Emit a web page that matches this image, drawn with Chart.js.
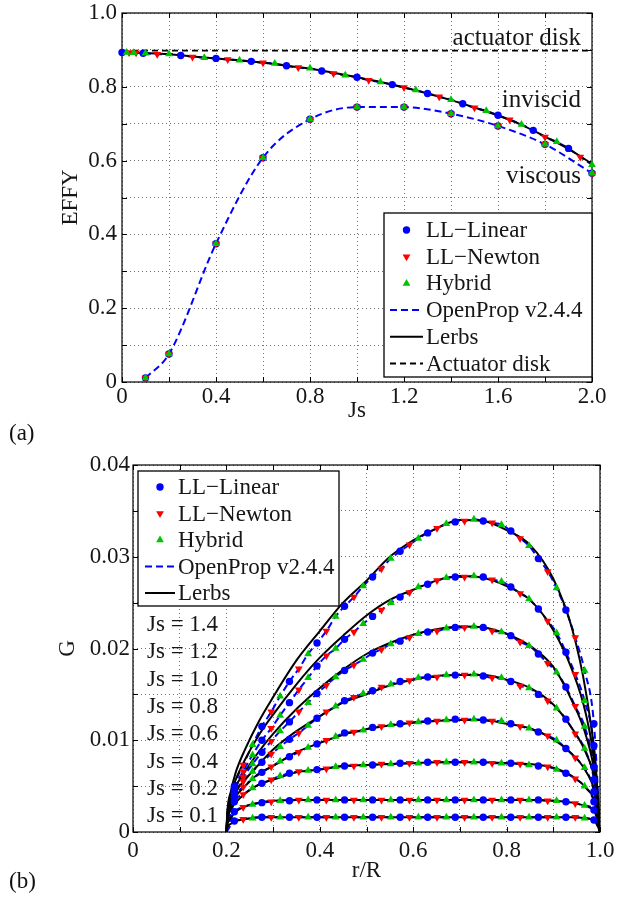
<!DOCTYPE html>
<html>
<head>
<meta charset="utf-8">
<script src="https://cdn.jsdelivr.net/npm/chart.js@4.4.1/dist/chart.umd.min.js"></script>
<style>
  html, body { margin: 0; padding: 0; background: #fff; }
  #page { position: relative; width: 631px; height: 898px; overflow: hidden; }
  canvas { position: absolute; left: 0; }
  .panel { position: absolute; left: 9px; font: 23px "Liberation Serif", serif; color: #111; line-height: 23px; }
</style>
</head>
<body>
<div id="page">
  <canvas id="effyChart" width="631" height="445" style="top:0;width:631px;height:445px"></canvas>
  <canvas id="gChart" width="631" height="453" style="top:445px;width:631px;height:453px"></canvas>
  <div class="panel" style="top:421px">(a)</div>
  <div class="panel" style="top:869px">(b)</div>
</div>
<script>
const SERIF = '"Liberation Serif", "Times New Roman", serif';
const BLUE = '#0000ff', RED = '#ff0000', GREEN = '#00c400', BLACK = '#000000', INK = '#161616';

// ---- (a) EFFY vs Js ----
const jsLerbs = [0, 0.1, 0.2, 0.3, 0.4, 0.5, 0.6, 0.7, 0.8, 0.9, 1.0, 1.1, 1.2, 1.3, 1.4, 1.5, 1.6, 1.7, 1.8, 1.9, 2.0];
const effyLerbs = [0.893, 0.891, 0.888, 0.882, 0.877, 0.871, 0.865, 0.857, 0.849, 0.838, 0.826, 0.813, 0.798, 0.782, 0.764, 0.744, 0.722, 0.697, 0.665, 0.632, 0.591];
const jsActuator = [0, 2];
const effyActuator = [0.898, 0.898];
const jsViscous = [0.1, 0.2, 0.4, 0.6, 0.8, 1.0, 1.2, 1.4, 1.6, 1.8, 2.0];
const effyViscous = [0.011, 0.076, 0.375, 0.608, 0.712, 0.745, 0.745, 0.727, 0.694, 0.644, 0.566];
const jsLinear = [0, 0.09, 0.25, 0.40, 0.55, 0.70, 0.85, 1.00, 1.15, 1.30, 1.45, 1.60, 1.75, 1.90];
const effyLinear = [0.893, 0.891, 0.885, 0.877, 0.869, 0.857, 0.843, 0.826, 0.806, 0.782, 0.754, 0.723, 0.682, 0.633];
const jsNewton = [0.03, 0.06, 0.15, 0.30, 0.45, 0.60, 0.75, 0.90, 1.05, 1.20, 1.35, 1.50, 1.65, 1.80, 1.95];
const effyNewton = [0.893, 0.892, 0.888, 0.881, 0.874, 0.865, 0.852, 0.836, 0.818, 0.798, 0.773, 0.743, 0.711, 0.664, 0.610];
const jsHybrid = [0.02, 0.05, 0.10, 0.20, 0.35, 0.50, 0.65, 0.80, 0.95, 1.10, 1.25, 1.40, 1.55, 1.70, 1.85, 2.00];
const effyHybrid = [0.893, 0.892, 0.891, 0.889, 0.879, 0.872, 0.863, 0.850, 0.831, 0.813, 0.791, 0.765, 0.735, 0.698, 0.651, 0.589];

// ---- (b) G vs r/R, one row per Js ----
const jsCurves = [0.1, 0.2, 0.4, 0.6, 0.8, 1.0, 1.2, 1.4];
const rLerbs = [0.2, 0.202, 0.21, 0.22, 0.24, 0.27, 0.30, 0.35, 0.40, 0.45, 0.50, 0.55, 0.60, 0.65, 0.70, 0.75, 0.80, 0.85, 0.90, 0.94, 0.97, 0.99, 1.0];
const gLerbs = [
  [0, 0.0005, 0.0009, 0.0012, 0.0014, 0.0016, 0.0016, 0.0016, 0.0016, 0.0016, 0.0016, 0.0016, 0.0016, 0.0016, 0.0016, 0.0016, 0.0016, 0.0016, 0.0016, 0.0016, 0.0015, 0.0012, 0],
  [0, 0.0008, 0.0016, 0.0022, 0.0028, 0.0032, 0.0034, 0.0035, 0.0035, 0.0035, 0.0035, 0.0035, 0.0035, 0.0035, 0.0035, 0.0035, 0.0035, 0.0035, 0.0034, 0.0032, 0.0028, 0.0021, 0],
  [0, 0.0012, 0.0025, 0.0032, 0.0042, 0.0052, 0.0057, 0.0065, 0.0068, 0.0072, 0.0073, 0.0074, 0.0075, 0.0076, 0.0076, 0.0076, 0.0075, 0.0074, 0.0070, 0.0061, 0.0048, 0.0031, 0],
  [0, 0.0014, 0.0030, 0.0039, 0.0050, 0.0064, 0.0072, 0.0087, 0.0097, 0.0106, 0.0112, 0.0116, 0.0119, 0.0121, 0.0122, 0.0122, 0.0118, 0.0113, 0.0101, 0.0085, 0.0066, 0.0040, 0],
  [0, 0.0016, 0.0034, 0.0044, 0.0057, 0.0074, 0.0090, 0.0110, 0.0126, 0.0141, 0.0150, 0.0160, 0.0166, 0.0170, 0.0171, 0.0171, 0.0166, 0.0157, 0.0139, 0.0113, 0.0086, 0.0052, 0],
  [0, 0.0018, 0.0038, 0.0050, 0.0066, 0.0088, 0.0107, 0.0134, 0.0157, 0.0177, 0.0194, 0.0206, 0.0215, 0.0221, 0.0224, 0.0223, 0.0216, 0.0203, 0.0180, 0.0143, 0.0105, 0.0058, 0],
  [0, 0.0020, 0.0042, 0.0057, 0.0079, 0.0106, 0.0128, 0.0161, 0.0190, 0.0214, 0.0236, 0.0253, 0.0264, 0.0274, 0.0279, 0.0277, 0.0268, 0.0253, 0.0220, 0.0177, 0.0128, 0.0068, 0],
  [0, 0.0022, 0.0045, 0.0065, 0.0090, 0.0121, 0.0147, 0.0187, 0.0219, 0.0250, 0.0274, 0.0300, 0.0318, 0.0331, 0.0340, 0.0339, 0.0329, 0.0313, 0.0276, 0.0222, 0.0152, 0.0076, 0]
];
const rLinear = [0.217, 0.276, 0.335, 0.394, 0.453, 0.513, 0.572, 0.631, 0.690, 0.750, 0.809, 0.868, 0.927, 0.987];
const gLinear = [
  [0.0012, 0.0016, 0.0016, 0.0016, 0.0016, 0.0016, 0.0016, 0.0016, 0.0016, 0.0016, 0.0016, 0.0016, 0.0016, 0.0013],
  [0.0022, 0.0032, 0.0034, 0.0035, 0.0035, 0.0035, 0.0035, 0.0035, 0.0035, 0.0035, 0.0035, 0.0035, 0.0033, 0.0024],
  [0.0033, 0.0053, 0.0064, 0.0068, 0.0072, 0.0073, 0.0075, 0.0076, 0.0076, 0.0076, 0.0075, 0.0072, 0.0064, 0.0033],
  [0.0038, 0.0065, 0.0082, 0.0096, 0.0108, 0.0114, 0.0118, 0.0121, 0.0123, 0.0122, 0.0118, 0.0109, 0.0091, 0.0044],
  [0.0042, 0.0076, 0.0101, 0.0124, 0.0143, 0.0154, 0.0164, 0.0169, 0.0171, 0.0170, 0.0164, 0.0150, 0.0123, 0.0057],
  [0.0045, 0.0087, 0.0120, 0.0151, 0.0176, 0.0195, 0.0208, 0.0218, 0.0223, 0.0223, 0.0214, 0.0194, 0.0158, 0.0071],
  [0.0047, 0.0100, 0.0141, 0.0181, 0.0210, 0.0235, 0.0256, 0.0270, 0.0278, 0.0278, 0.0267, 0.0243, 0.0196, 0.0094],
  [0.0050, 0.0115, 0.0164, 0.0206, 0.0246, 0.0278, 0.0306, 0.0326, 0.0338, 0.0339, 0.0328, 0.0298, 0.0242, 0.0118]
];
const rNewton = [0.236, 0.296, 0.355, 0.414, 0.473, 0.532, 0.592, 0.651, 0.710, 0.769, 0.829, 0.888, 0.947];
const gNewton = [
  [0.0014, 0.0016, 0.0016, 0.0016, 0.0016, 0.0016, 0.0016, 0.0016, 0.0016, 0.0016, 0.0016, 0.0016, 0.0016],
  [0.0027, 0.0033, 0.0035, 0.0035, 0.0035, 0.0035, 0.0035, 0.0035, 0.0035, 0.0035, 0.0035, 0.0034, 0.0031],
  [0.0041, 0.0057, 0.0066, 0.0069, 0.0072, 0.0074, 0.0075, 0.0076, 0.0076, 0.0075, 0.0074, 0.0071, 0.0058],
  [0.0049, 0.0071, 0.0087, 0.0100, 0.0109, 0.0115, 0.0119, 0.0121, 0.0122, 0.0121, 0.0115, 0.0105, 0.0081],
  [0.0055, 0.0085, 0.0108, 0.0131, 0.0147, 0.0158, 0.0165, 0.0169, 0.0171, 0.0168, 0.0159, 0.0143, 0.0107],
  [0.0060, 0.0099, 0.0131, 0.0160, 0.0182, 0.0199, 0.0212, 0.0219, 0.0223, 0.0219, 0.0207, 0.0184, 0.0137],
  [0.0066, 0.0113, 0.0155, 0.0192, 0.0218, 0.0242, 0.0261, 0.0274, 0.0278, 0.0275, 0.0260, 0.0230, 0.0172],
  [0.0073, 0.0131, 0.0178, 0.0219, 0.0256, 0.0287, 0.0313, 0.0331, 0.0339, 0.0337, 0.0320, 0.0284, 0.0212]
];
const rHybrid = [0.256, 0.315, 0.375, 0.434, 0.493, 0.552, 0.611, 0.671, 0.730, 0.789, 0.848, 0.907, 0.967];
const gHybrid = [
  [0.0015, 0.0016, 0.0016, 0.0016, 0.0016, 0.0016, 0.0016, 0.0016, 0.0016, 0.0016, 0.0016, 0.0016, 0.0015],
  [0.0030, 0.0034, 0.0035, 0.0035, 0.0035, 0.0035, 0.0035, 0.0035, 0.0035, 0.0035, 0.0035, 0.0034, 0.0029],
  [0.0048, 0.0061, 0.0067, 0.0071, 0.0073, 0.0074, 0.0075, 0.0076, 0.0076, 0.0075, 0.0073, 0.0068, 0.0050],
  [0.0058, 0.0077, 0.0092, 0.0104, 0.0111, 0.0117, 0.0120, 0.0122, 0.0123, 0.0121, 0.0113, 0.0100, 0.0070],
  [0.0066, 0.0093, 0.0116, 0.0137, 0.0151, 0.0161, 0.0168, 0.0171, 0.0172, 0.0168, 0.0157, 0.0135, 0.0091],
  [0.0074, 0.0110, 0.0141, 0.0169, 0.0188, 0.0205, 0.0216, 0.0222, 0.0224, 0.0218, 0.0203, 0.0174, 0.0115],
  [0.0084, 0.0127, 0.0168, 0.0200, 0.0227, 0.0250, 0.0267, 0.0277, 0.0279, 0.0273, 0.0254, 0.0217, 0.0143],
  [0.0095, 0.0148, 0.0194, 0.0235, 0.0268, 0.0298, 0.0320, 0.0336, 0.0341, 0.0335, 0.0312, 0.0266, 0.0176]
];
const rEnds = [0.2, 1.0];
const gEnds = [0, 0];

// ---- helpers ----
const pts = (xs, ys) => xs.map((x, i) => ({ x, y: ys[i] }));
const merged = (...sets) => sets.flat().sort((a, b) => a.x - b.x);

const linearStyle = { pointStyle: 'circle', pointRadius: 3.7, pointBackgroundColor: BLUE, backgroundColor: BLUE, borderColor: BLUE };
const newtonStyle = { pointStyle: 'triangle', pointRotation: 180, pointRadius: 4.5, pointBackgroundColor: RED, backgroundColor: RED, borderColor: RED };
const hybridStyle = { pointStyle: 'triangle', pointRotation: 0, pointRadius: 4.5, pointBackgroundColor: GREEN, backgroundColor: GREEN, borderColor: GREEN };

function markers(label, data, style) {
  return Object.assign({ label, data, showLine: false, clip: false, pointBorderWidth: 0, pointHoverRadius: 0 }, style);
}
function curve(label, data, color, dash, width) {
  return {
    label, data, borderColor: color, backgroundColor: color, borderWidth: width,
    borderDash: dash, pointRadius: 0, pointHoverRadius: 0, fill: false,
    cubicInterpolationMode: 'monotone'
  };
}

function drawMarker(ctx, ds, cx, cy) {
  const r = ds.pointRadius;
  ctx.fillStyle = ds.pointBackgroundColor;
  ctx.beginPath();
  if (ds.pointStyle === 'circle') {
    ctx.arc(cx, cy, r, 0, Math.PI * 2);
  } else {
    const s = ds.pointRotation === 180 ? -1 : 1;
    ctx.moveTo(cx, cy - s * r);
    ctx.lineTo(cx + r * 0.866, cy + s * r / 2);
    ctx.lineTo(cx - r * 0.866, cy + s * r / 2);
    ctx.closePath();
  }
  ctx.fill();
}

// box round the plot plus inward tick marks, matlab style
const framePlugin = {
  id: 'frame',
  beforeDatasetsDraw(chart) {
    const { ctx, chartArea: a, scales: { x, y } } = chart;
    const len = 5;
    ctx.save();
    ctx.strokeStyle = BLACK;
    ctx.lineWidth = 1.2;
    ctx.strokeRect(a.left, a.top, a.right - a.left, a.bottom - a.top);
    ctx.lineWidth = 1;
    ctx.beginPath();
    x.ticks.forEach(t => {
      const px = Math.round(x.getPixelForValue(t.value)) + 0.5;
      ctx.moveTo(px, a.bottom); ctx.lineTo(px, a.bottom - len);
      ctx.moveTo(px, a.top); ctx.lineTo(px, a.top + len);
    });
    y.ticks.forEach(t => {
      const py = Math.round(y.getPixelForValue(t.value)) + 0.5;
      ctx.moveTo(a.left, py); ctx.lineTo(a.left + len, py);
      ctx.moveTo(a.right, py); ctx.lineTo(a.right - len, py);
    });
    ctx.stroke();
    ctx.restore();
  }
};

const notesPlugin = {
  id: 'notes',
  afterDatasetsDraw(chart, args, o) {
    const ctx = chart.ctx;
    ctx.save();
    ctx.font = o.fontCss;
    ctx.fillStyle = INK;
    ctx.textBaseline = 'alphabetic';
    o.items.forEach(n => {
      ctx.textAlign = n.align;
      ctx.fillText(n.text, n.x, n.y);
    });
    ctx.restore();
  }
};

const boxLegend = {
  id: 'boxLegend',
  afterDatasetsDraw(chart, args, o) {
    const ctx = chart.ctx;
    ctx.save();
    ctx.fillStyle = '#fff';
    ctx.fillRect(o.left, o.top, o.width, o.height);
    ctx.strokeStyle = BLACK;
    ctx.lineWidth = 1.3;
    ctx.strokeRect(o.left, o.top, o.width, o.height);
    ctx.font = o.fontCss;
    ctx.textBaseline = 'middle';
    ctx.textAlign = 'left';
    o.labels.forEach((label, i) => {
      const ds = chart.data.datasets.find(d => d.label === label);
      const cy = o.top + o.firstRow + i * o.rowHeight;
      if (ds.showLine === false) {
        drawMarker(ctx, ds, (o.symbolLeft + o.symbolRight) / 2, cy);
      } else {
        ctx.strokeStyle = ds.borderColor;
        ctx.lineWidth = ds.borderWidth;
        ctx.setLineDash(ds.borderDash || []);
        ctx.beginPath();
        ctx.moveTo(o.symbolLeft, cy);
        ctx.lineTo(o.symbolRight, cy);
        ctx.stroke();
        ctx.setLineDash([]);
      }
      ctx.fillStyle = INK;
      ctx.fillText(label, o.textLeft, cy + 1);
    });
    ctx.restore();
  }
};

// fixed axis box sizes; also drop the label overhang padding so the plot area sits where we put it
const fixWidth = w => s => { s.width = w; s.paddingTop = 0; s.paddingBottom = 0; };
const fixHeight = h => s => { s.height = h; s.paddingLeft = 0; s.paddingRight = 0; };

function axis(min, max, step, digits, title, titlePad, labelPad, size) {
  return {
    type: 'linear', min, max,
    ticks: {
      stepSize: step, autoSkip: false, maxRotation: 0, padding: labelPad, color: INK,
      font: { family: SERIF, size: 23, lineHeight: 1 },
      callback: (v, i) => (i % 2 ? '' : (v === 0 ? '0' : v.toFixed(digits)))
    },
    grid: { color: 'rgba(0,0,0,0.55)', lineWidth: 1, drawTicks: false },
    border: { display: false, dash: [1, 3] },
    title: { display: true, text: title, color: INK, font: { family: SERIF, size: 23 }, padding: titlePad },
    afterFit: size
  };
}

const baseOptions = {
  responsive: false,
  animation: false,
  devicePixelRatio: 1,
  events: []
};

const LBL_LINEAR = 'LL\u2212Linear', LBL_NEWTON = 'LL\u2212Newton', LBL_HYBRID = 'Hybrid';
const LBL_OPENPROP = 'OpenProp v2.4.4', LBL_LERBS = 'Lerbs', LBL_ACT = 'Actuator disk';

function drawCharts() {
  // ---- chart (a) ----
  const effyDatasets = [
    markers(LBL_HYBRID, pts(jsViscous, effyViscous), hybridStyle),
    markers(LBL_HYBRID, pts(jsHybrid, effyHybrid), hybridStyle),
    markers(LBL_NEWTON, pts(jsViscous, effyViscous), newtonStyle),
    markers(LBL_NEWTON, pts(jsNewton, effyNewton), newtonStyle),
    markers(LBL_LINEAR, pts(jsViscous, effyViscous), linearStyle),
    markers(LBL_LINEAR, pts(jsLinear, effyLinear), linearStyle),
    curve(LBL_LERBS, pts(jsLerbs, effyLerbs), BLACK, [], 2),
    curve(LBL_OPENPROP, merged(pts(jsLinear, effyLinear), pts(jsNewton, effyNewton), pts(jsHybrid, effyHybrid)), BLUE, [7, 4], 2),
    curve(LBL_OPENPROP, pts(jsViscous, effyViscous), BLUE, [7, 4], 2),
    curve(LBL_ACT, pts(jsActuator, effyActuator), BLACK, [6, 4], 1.8)
  ];

  new Chart(document.getElementById('effyChart'), {
    type: 'line',
    data: { datasets: effyDatasets },
    options: Object.assign({}, baseOptions, {
      layout: { padding: { top: 13, right: 39, left: 0, bottom: 0 } },
      scales: {
        x: axis(0, 2, 0.2, 1, 'Js', { top: 0, bottom: 20 }, 3, fixHeight(63)),
        y: axis(0, 1, 0.1, 1, 'EFFY', { top: 57, bottom: 0 }, 5, fixWidth(122))
      },
      plugins: {
        legend: { display: false },
        tooltip: { enabled: false },
        notes: {
          fontCss: '25px ' + SERIF,
          items: [
            { text: 'actuator disk', x: 581, y: 45, align: 'right' },
            { text: 'inviscid', x: 581, y: 107, align: 'right' },
            { text: 'viscous', x: 581, y: 183, align: 'right' }
          ]
        },
        boxLegend: {
          fontCss: '23px ' + SERIF,
          left: 384, top: 213, width: 208, height: 164,
          firstRow: 17, rowHeight: 26.7,
          symbolLeft: 390, symbolRight: 423, textLeft: 426,
          labels: [LBL_LINEAR, LBL_NEWTON, LBL_HYBRID, LBL_OPENPROP, LBL_LERBS, LBL_ACT]
        }
      }
    }),
    plugins: [framePlugin, notesPlugin, boxLegend]
  });

  // ---- chart (b) ----
  const gDatasets = [];
  jsCurves.forEach((js, i) => gDatasets.push(markers(LBL_HYBRID, pts(rHybrid, gHybrid[i]), hybridStyle)));
  jsCurves.forEach((js, i) => gDatasets.push(markers(LBL_NEWTON, pts(rNewton, gNewton[i]), newtonStyle)));
  jsCurves.forEach((js, i) => gDatasets.push(markers(LBL_LINEAR, pts(rLinear, gLinear[i]), linearStyle)));
  jsCurves.forEach((js, i) => gDatasets.push(curve(LBL_LERBS, pts(rLerbs, gLerbs[i]), BLACK, [], 2)));
  jsCurves.forEach((js, i) => gDatasets.push(curve(LBL_OPENPROP,
    merged(pts(rEnds, gEnds), pts(rLinear, gLinear[i]), pts(rNewton, gNewton[i]), pts(rHybrid, gHybrid[i])),
    BLUE, [7, 4], 2)));

  const jsNotes = jsCurves.slice().reverse().map((js, i) => ({
    text: 'Js = ' + js.toFixed(1), x: 147, y: 186 + i * 27.3, align: 'left'
  }));

  new Chart(document.getElementById('gChart'), {
    type: 'line',
    data: { datasets: gDatasets },
    options: Object.assign({}, baseOptions, {
      layout: { padding: { top: 20, right: 31, left: 0, bottom: 0 } },
      scales: {
        x: axis(0, 1, 0.1, 1, 'r/R', { top: 0, bottom: 13 }, 7, fixHeight(66)),
        y: axis(0, 0.04, 0.005, 2, 'G', { top: 54, bottom: 0 }, 3, fixWidth(133))
      },
      plugins: {
        legend: { display: false },
        tooltip: { enabled: false },
        notes: { fontCss: '23px ' + SERIF, items: jsNotes },
        boxLegend: {
          fontCss: '23px ' + SERIF,
          left: 138, top: 26, width: 201, height: 135,
          firstRow: 16, rowHeight: 26.5,
          symbolLeft: 145, symbolRight: 175, textLeft: 178,
          labels: [LBL_LINEAR, LBL_NEWTON, LBL_HYBRID, LBL_OPENPROP, LBL_LERBS]
        }
      }
    }),
    plugins: [framePlugin, notesPlugin, boxLegend]
  });
}

// make sure the serif face is ready before the canvases draw text
if (document.fonts && document.fonts.load) {
  document.fonts.load('23px "Liberation Serif"').then(drawCharts, drawCharts);
} else {
  drawCharts();
}
</script>
</body>
</html>
